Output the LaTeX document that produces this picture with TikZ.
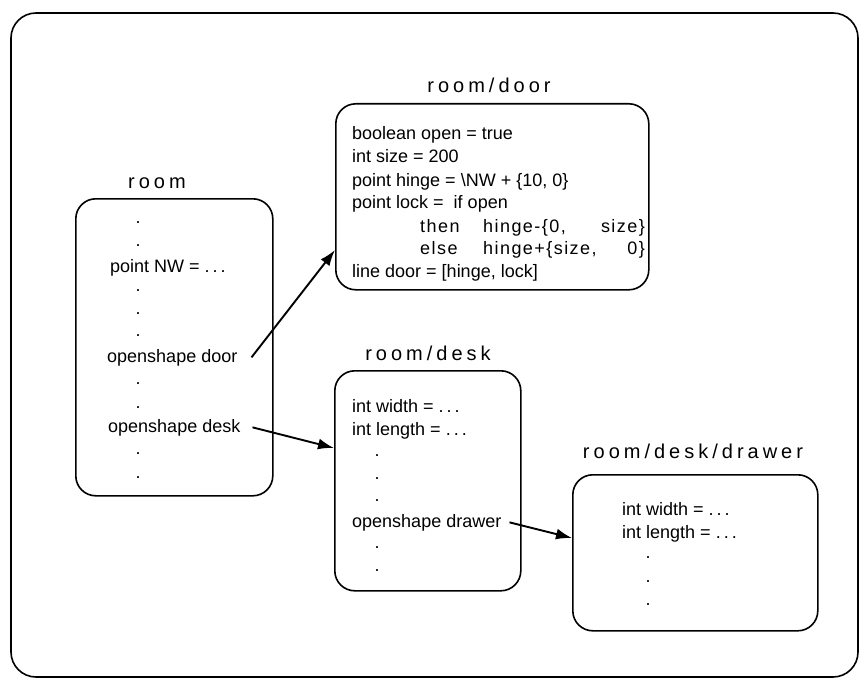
\documentclass[tikz,border=0pt]{standalone}
\usepackage{fontspec}
\setmainfont{Liberation Sans}
\newfontfamily\titlefont[LetterSpace=20]{Liberation Sans}
\newfontfamily\spacedfont[LetterSpace=8]{Liberation Sans}
\usetikzlibrary{arrows.meta}

\begin{document}
\begin{tikzpicture}[x=1pt,y=-1pt,
  shapebox/.style={draw, line width=1.6pt, rounded corners=20pt, inner sep=0pt, anchor=north west},
  code/.style={anchor=base west, inner sep=0pt, font=\fontsize{18}{22}\selectfont},
  spaced/.style={code, font=\spacedfont\fontsize{18}{22}\selectfont},
  dotmark/.style={anchor=base, inner sep=0pt, font=\fontsize{18}{22}\selectfont},
  title/.style={anchor=base, inner sep=0pt, font=\titlefont\fontsize{20}{24}\selectfont},
  link/.style={line width=1.9pt, -{Latex[length=16pt,width=11pt]}}]

\useasboundingbox (0,0) rectangle (861,679);

% outer frame
\draw[line width=1.6pt, rounded corners=25pt] (11,13) rectangle (858,677);

% ---- room ----
\node[title] (troom) at (157,188) {room};
\node[shapebox, minimum width=197pt, minimum height=297pt] (roombox) at (75,198) {};
\node[dotmark] (r1) at (138,223) {.};
\node[dotmark] (r2) at (138,246) {.};
\node[code] (rnw) at (110,272) {point NW = .\,.\,.};
\node[dotmark] (r3) at (138,291) {.};
\node[dotmark] (r4) at (138,314) {.};
\node[dotmark] (r5) at (138,336) {.};
\node[code] (rdoor) at (107,362) {openshape door};
\node[dotmark] (r6) at (138,384) {.};
\node[dotmark] (r7) at (138,408) {.};
\node[code] (rdesk) at (108,432) {openshape desk};
\node[dotmark] (r8) at (138,454) {.};
\node[dotmark] (r9) at (138,478) {.};

% ---- room/door ----
\node[title] (tdoor) at (489,93) {room/door};
\node[shapebox, minimum width=313pt, minimum height=186pt] (doorbox) at (335,103) {};
\node[code] (d1) at (352,140) {boolean open = true};
\node[code] (d2) at (352,163) {int size = 200};
\node[code] (d3) at (352,186) {point hinge = \textbackslash NW + \{10, 0\}};
\node[code] (d4) at (352,208) {point lock = \ if open};
\node[spaced] (d5a) at (420,232) {then};
\node[spaced] (d5b) at (483,232) {hinge-\{0,};
\node[spaced, anchor=base east] (d5c) at (645,232) {size\}};
\node[spaced] (d6a) at (420,254) {else};
\node[spaced] (d6b) at (483,254) {hinge+\{size,};
\node[spaced, anchor=base east] (d6c) at (645,254) {0\}};
\node[code] (d7) at (352,277) {line door = [hinge, lock]};

% ---- room/desk ----
\node[title] (tdesk) at (428,360) {room/desk};
\node[shapebox, minimum width=186pt, minimum height=220pt] (deskbox) at (334,370) {};
\node[code] (k1) at (352,412) {int width = .\,.\,.};
\node[code] (k2) at (352,435) {int length = .\,.\,.};
\node[dotmark] (k3) at (377,456) {.};
\node[dotmark] (k4) at (377,479) {.};
\node[dotmark] (k5) at (377,501) {.};
\node[code] (kdrawer) at (352,527) {openshape drawer};
\node[dotmark] (k6) at (377,548) {.};
\node[dotmark] (k7) at (377,571) {.};

% ---- room/desk/drawer ----
\node[title] (tdrawer) at (693,458) {room/desk/drawer};
\node[shapebox, minimum width=245pt, minimum height=156pt] (drawerbox) at (572,474) {};
\node[code] (w1) at (622,515) {int width = .\,.\,.};
\node[code] (w2) at (622,538) {int length = .\,.\,.};
\node[dotmark] (w3) at (648,558) {.};
\node[dotmark] (w4) at (648,582) {.};
\node[dotmark] (w5) at (648,605) {.};

% ---- references to nested shapes ----
\draw[link] ([xshift=14pt]rdoor.east) -- (doorbox.west |- 0,250);
\draw[link] ([xshift=12pt]rdesk.east) -- (deskbox.west |- 0,448);
\draw[link] ([xshift=8pt]kdrawer.east) -- (drawerbox.west |- 0,538);
\end{tikzpicture}
\end{document}
